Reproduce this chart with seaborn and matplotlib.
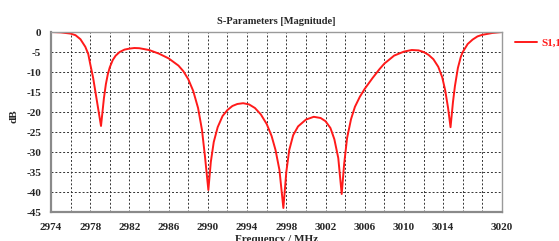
import matplotlib
matplotlib.use("Agg")
import matplotlib.pyplot as plt
import seaborn as sns
import pandas as pd

freq_mhz = [2974.0, 2975.0, 2976.0, 2976.5, 2977.0, 2977.5, 2977.8, 2978.0, 2978.3, 2978.5,
            2978.7, 2978.9, 2979.1, 2979.25, 2979.4, 2979.6, 2979.8, 2980.0, 2980.3, 2980.6,
            2981.0, 2981.5, 2982.0, 2982.5, 2983.0, 2984.0, 2985.0, 2986.0, 2987.0, 2987.5,
            2988.0, 2988.5, 2989.0, 2989.4, 2989.7, 2990.05, 2990.3, 2990.6, 2991.0, 2991.5,
            2992.0, 2992.5, 2993.0, 2993.6, 2994.2, 2994.8, 2995.4, 2996.0, 2996.5, 2996.9,
            2997.3, 2997.7, 2998.0, 2998.3, 2998.7, 2999.2, 3000.0, 3000.8, 3001.5, 3002.0,
            3002.5, 3002.9, 3003.3, 3003.65, 3003.9, 3004.2, 3004.6, 3005.0, 3005.5, 3006.0,
            3006.8, 3007.5, 3008.0, 3009.0, 3010.0, 3010.8, 3011.5, 3012.0, 3012.5, 3013.0,
            3013.5, 3013.9, 3014.2, 3014.5, 3014.75, 3015.0, 3015.2, 3015.5, 3015.8, 3016.0,
            3016.5, 3017.0, 3017.5, 3018.0, 3019.0, 3020.0]
s11_db = [0.0, -0.1, -0.4, -0.8, -1.8, -3.7, -5.5, -8.0, -11.5, -14.5,
          -17.5, -20.5, -23.5, -20.0, -16.5, -13.0, -10.5, -8.8, -7.0, -5.9,
          -5.0, -4.4, -4.15, -4.0, -4.05, -4.5, -5.4, -6.6, -8.4, -9.8,
          -11.8, -14.7, -19.0, -24.5, -31.0, -39.5, -32.5, -27.5, -23.8, -21.0,
          -19.5, -18.5, -18.0, -17.8, -18.1, -19.0, -20.6, -23.0, -26.0, -29.5,
          -34.5, -44.0, -35.0, -29.5, -25.8, -23.6, -21.9, -21.2, -21.5, -22.3,
          -24.0, -26.8, -31.5, -40.5, -33.0, -26.5, -21.8, -18.7, -16.2, -14.2,
          -11.5, -9.3, -7.9, -5.9, -4.9, -4.5, -4.6, -5.0, -5.7, -6.8,
          -8.7, -11.3, -14.5, -19.0, -23.8, -17.5, -13.5, -9.0, -6.2, -5.0,
          -3.0, -1.9, -1.1, -0.7, -0.25, 0.0]
series_name = "S1,1"

x_ticks = list(range(2974, 3021, 2))
x_tick_labels = ["2974", "", "2978", "", "2982", "", "2986", "", "2990", "", "2994", "",
                 "2998", "", "3002", "", "3006", "", "3010", "", "3014", "", "", "3020"]
y_ticks = [0, -5, -10, -15, -20, -25, -30, -35, -40, -45]
y_tick_labels = ["0", "-5", "-10", "-15", "-20", "-25", "-30", "-35", "-40", "-45"]

sns.set_style("white")
plt.rcParams["font.family"] = ["Liberation Serif", "DejaVu Serif"]
plt.rcParams["axes.unicode_minus"] = False

df = pd.DataFrame({"Frequency": freq_mhz, "dB": s11_db, "series": series_name})

fig = plt.figure(figsize=(5.59, 2.41), dpi=100)
ax = fig.add_axes([51 / 559, 1 - 212 / 241, 451 / 559, 180 / 241])

sns.lineplot(data=df, x="Frequency", y="dB", hue="series", palette=["#ff1a1a"],
             linewidth=1.4, ax=ax, sort=False, estimator=None)

ax.set_xlim(2974, 3020)
ax.set_ylim(-45, 0)
ax.set_xticks(x_ticks)
ax.set_xticklabels(x_tick_labels)
ax.set_yticks(y_ticks)
ax.set_yticklabels(y_tick_labels)
for lab in ax.get_xticklabels() + ax.get_yticklabels():
    lab.set_fontweight("bold")
    lab.set_fontsize(8)
ax.tick_params(axis="both", direction="out", length=3, width=0.8, color="#444444")
ax.tick_params(axis="x", pad=5)
ax.tick_params(axis="y", pad=4)

ax.grid(True, color="#333333", linestyle=(0, (2, 2)), linewidth=0.7)
for side in ["left", "bottom"]:
    ax.spines[side].set_color("#8a8a8a")
    ax.spines[side].set_linewidth(1.6)
for side in ["top", "right"]:
    ax.spines[side].set_color("#9a9a9a")
    ax.spines[side].set_linewidth(1.0)

ax.set_title("S-Parameters [Magnitude]", fontsize=7.5, fontweight="bold", pad=6)
ax.set_ylabel("dB", fontsize=8, fontweight="bold")
ax.yaxis.set_label_coords(-0.073, 0.53)
ax.set_xlabel("Frequency / MHz", fontsize=8, fontweight="bold")
ax.xaxis.set_label_coords(0.5, -0.13)

leg = ax.legend(loc="upper left", bbox_to_anchor=(1.02, 0.99), frameon=False,
                handlelength=1.9, handletextpad=0.4, borderaxespad=0,
                prop={"weight": "bold", "size": 8})
for t in leg.get_texts():
    t.set_color("#ff1a1a")

fig.savefig("out.png", dpi=100)
